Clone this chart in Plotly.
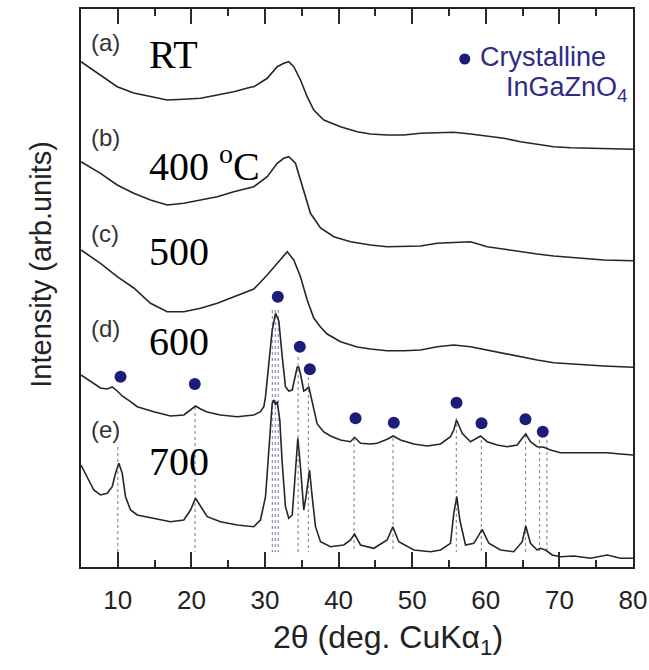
import plotly.graph_objects as go

# ---- XRD patterns (2-theta in degrees, intensity in arbitrary offset units) ----
tt_a = [5.0, 7.65, 9.92, 12.17, 14.44, 16.71, 18.97, 21.24, 23.51, 25.76, 28.02, 28.48,
        30.30, 31.66, 32.55, 33.23, 33.91, 34.82, 35.73, 36.63, 37.99, 40.26, 42.53,
        44.33, 46.60, 48.86, 51.13, 53.40, 55.65, 57.92, 60.19, 62.45, 64.72, 66.98,
        69.24, 71.51, 73.78, 76.03, 80.0]
int_a = [505.3, 492, 480.3, 474, 470.3, 467, 467.7, 468.7, 472, 475.3, 479.7, 480.3,
         488.7, 500.3, 503.7, 505.3, 500.3, 487, 470.3, 457, 447, 440.3, 435.3,
         433, 432, 432, 433.7, 434.3, 434.7, 433, 431, 428.7, 425.3, 423,
         420.3, 419.3, 418.7, 418, 417.7]

tt_b = [5.0, 7.65, 9.92, 12.17, 14.44, 16.71, 18.97, 21.24, 23.51, 25.76, 28.48, 30.30,
        31.66, 32.55, 33.23, 34.14, 35.05, 36.18, 37.54, 39.35, 41.62, 44.33, 46.60,
        48.86, 51.13, 53.40, 55.65, 57.92, 60.19, 62.45, 64.72, 66.98, 69.24, 71.51,
        73.78, 76.03, 80.0]
int_b = [405.3, 393.7, 382, 373.7, 367, 362, 363.7, 367, 370.3, 375.3, 380.3, 390.3,
         403.7, 408.7, 410.3, 403.7, 380.3, 353.7, 339, 330.3, 325.3, 322, 320.3,
         321, 321, 323.7, 324.3, 325.3, 320.3, 317.7, 315.3, 313, 311, 309.7,
         308.7, 307, 306.3]

tt_c = [5.0, 7.65, 9.92, 12.17, 14.44, 16.71, 18.97, 21.24, 23.51, 25.76, 26.66, 28.48,
        30.30, 31.66, 33.02, 33.91, 34.82, 35.73, 36.63, 37.54, 38.45, 40.26, 42.53,
        44.33, 46.60, 48.86, 51.13, 53.40, 55.65, 57.92, 60.19, 62.45, 64.72, 66.98,
        69.24, 71.51, 73.78, 76.03, 80.0]
int_c = [317, 303.7, 290.3, 279, 263.7, 255.3, 255.3, 258.7, 263.7, 270.3, 273, 278,
         292, 303.7, 315.3, 307, 290.3, 267, 249, 240, 233, 225.3, 220,
         218, 216.3, 216.3, 217, 220.3, 222, 220.3, 217, 213.7, 209.7, 207,
         204.3, 203, 202, 201, 199.7]

tt_d = [5.0, 5.84, 6.74, 7.65, 8.56, 9.24, 9.92, 10.60, 11.73, 12.64, 14.89, 17.16,
        18.97, 19.88, 20.56, 21.24, 22.15, 23.95, 26.22, 28.48, 29.38, 29.84, 30.07,
        30.52, 30.98, 31.43, 31.88, 32.34, 32.78, 33.23, 33.70, 34.05, 34.38, 34.59,
        34.82, 35.27, 35.50, 35.95, 36.41, 37.09, 37.99, 38.90, 40.26, 41.62, 42.16,
        42.98, 44.33, 45.24, 46.60, 47.42, 48.41, 50.22, 52.04, 53.85, 55.20, 55.65,
        56.02, 56.47, 56.79, 57.92, 58.83, 59.28, 60.19, 61.55, 62.91, 64.27, 64.95,
        65.43, 66.07, 66.98, 67.88, 68.79, 70.15, 71.96, 74.23, 76.49, 78.30, 80.0]
int_d = [192, 188, 183, 179, 178, 180, 176, 171, 165.3, 160.3, 155.3, 151,
         152, 157, 161, 158, 155, 152, 150.3, 152, 155.3, 160.3, 170.3,
         203.7, 237, 253.7, 246, 210.3, 180.3, 176, 177, 189, 200, 200,
         193, 176, 177, 180.3, 164, 143, 135, 131, 127, 125.3, 129.7,
         123.7, 123, 123.7, 127.7, 131, 127, 123, 121, 123, 130.3, 137,
         147, 139, 133.7, 125.3, 128.7, 131, 125.3, 122, 120.3, 122, 128.7,
         133, 125.3, 120.3, 119.7, 117, 114.3, 114.3, 113.7, 114.3, 113, 112]

tt_e = [5.0, 5.84, 6.74, 7.65, 8.56, 9.24, 9.69, 10.14, 10.60, 11.05, 11.73, 12.64,
        14.89, 17.16, 18.97, 19.88, 20.56, 21.24, 22.15, 23.95, 26.22, 28.48, 29.38,
        30.07, 30.52, 30.98, 31.20, 31.43, 31.66, 32.01, 32.34, 32.78, 33.23, 33.70,
        34.05, 34.46, 34.82, 35.27, 35.64, 36.05, 36.41, 36.86, 37.54, 38.90, 40.71,
        41.62, 42.16, 42.98, 44.78, 46.60, 47.36, 48.18, 50.22, 52.49, 53.85, 55.20,
        55.65, 56.06, 56.47, 57.24, 58.37, 59.51, 60.41, 62.00, 63.80, 64.95, 65.43,
        66.07, 66.98, 67.43, 68.11, 69.02, 70.15, 71.96, 74.23, 76.49, 78.30, 80.0]
int_e = [102, 90.3, 77, 72, 73.7, 80.3, 93.7, 103.7, 93.7, 70.3, 57, 52,
         48.7, 45.3, 47, 57, 68.7, 60.3, 50.3, 45.3, 42, 40.3, 47,
         70.3, 120.3, 163.7, 167, 162, 165.3, 147, 103.7, 60.3, 48.7, 52,
         87, 128.7, 100.3, 57, 73.7, 97, 70.3, 40.3, 25.3, 20.3, 22,
         27, 33, 22, 18.7, 27, 40.3, 25.3, 17, 15.3, 17, 23.7,
         53.7, 70.3, 47, 22, 23.7, 37.7, 23.7, 17, 15.3, 25.3, 41,
         23.7, 17, 18.7, 17, 12, 10.3, 11, 8.7, 12, 8.7, 8.7]

# ---- crystalline InGaZnO4 reflections ----
dot_pos = [10.37, 20.46, 31.74, 34.73, 36.09, 42.30, 47.50, 56.02, 59.42, 65.39, 67.74]
dot_height = [190.3, 183, 270.3, 220.3, 197.7, 148.7, 144.3, 164.3, 143.7, 147.7, 135.3]

ref_pos = [10.0, 20.5, 31.0, 31.4, 31.8, 34.5, 35.9, 42.1, 47.4, 56.0, 59.4, 65.4, 67.3, 68.3]
ref_top = [120, 160, 257, 257, 257, 210, 190, 129, 129, 149, 127, 132, 127, 127]
ref_bottom = 15

panel_tags = ["(a)", "(b)", "(c)", "(d)", "(e)"]
panel_tag_y = [525, 430, 334, 239, 138]
temp_labels = ["RT", "400 <sup>o</sup>C", "500", "600", "700"]
temp_label_y = [513, 404, 316, 226, 106]

x_ticks = [10, 20, 30, 40, 50, 60, 70, 80]

AX = "#222222"
SANS = "Liberation Sans, Arial"

fig = go.Figure()

# dotted reference lines from the 600 pattern down to the baseline
lx, ly = [], []
for p, top in zip(ref_pos, ref_top):
    lx += [p, p, None]
    ly += [top, ref_bottom, None]
fig.add_trace(go.Scatter(x=lx, y=ly, mode="lines",
                         line=dict(color="#8a8eb5", width=1.2, dash="dot"),
                         hoverinfo="skip", showlegend=False))

for xs, ys in [(tt_a, int_a), (tt_b, int_b), (tt_c, int_c), (tt_d, int_d), (tt_e, int_e)]:
    fig.add_trace(go.Scatter(x=xs, y=ys, mode="lines",
                             line=dict(color="#262626", width=1.6),
                             showlegend=False))

fig.add_trace(go.Scatter(x=dot_pos, y=dot_height, mode="markers",
                         marker=dict(color="#1c1c7a", size=12),
                         showlegend=False))

# legend marker
fig.add_trace(go.Scatter(x=[57.14], y=[508], mode="markers",
                         marker=dict(color="#1c1c7a", size=11),
                         showlegend=False))

# invisible trace carrying the top tick axis
fig.add_trace(go.Scatter(x=[5, 80], y=[0, 0], xaxis="x2", mode="markers",
                         marker=dict(opacity=0), hoverinfo="skip", showlegend=False))

annotations = []
for tag, y in zip(panel_tags, panel_tag_y):
    annotations.append(dict(x=6.1, y=y, xref="x", yref="y", text=tag, showarrow=False,
                            xanchor="left", yanchor="middle",
                            font=dict(family=SANS, size=24, color="#333333")))
for lab, y in zip(temp_labels, temp_label_y):
    annotations.append(dict(x=13.9, y=y, xref="x", yref="y", text=lab, showarrow=False,
                            xanchor="left", yanchor="middle",
                            font=dict(family="Liberation Serif, Times New Roman", size=40,
                                      color="#000000")))
annotations.append(dict(x=58.9, y=510, xref="x", yref="y", text="Crystalline",
                        showarrow=False, xanchor="left", yanchor="middle",
                        font=dict(family=SANS, size=27, color="#2d2d85")))
annotations.append(dict(x=79.6, y=478, xref="x", yref="y", text="InGaZnO<sub>4</sub>",
                        showarrow=False, xanchor="right", yanchor="middle",
                        font=dict(family=SANS, size=27, color="#2d2d85")))
annotations.append(dict(x=0.556, y=-0.13, xref="paper", yref="paper",
                        text="2θ (deg. CuKα<sub>1</sub>)", showarrow=False,
                        xanchor="center", yanchor="middle",
                        font=dict(family=SANS, size=32, color=AX)))
annotations.append(dict(x=-0.073, y=0.543, xref="paper", yref="paper",
                        text="Intensity (arb.units)", showarrow=False, textangle=-90,
                        xanchor="center", yanchor="middle",
                        font=dict(family=SANS, size=29, color=AX)))

tick_style = dict(ticks="inside", ticklen=15, tickwidth=2, tickcolor="#2a2a2a",
                  minor=dict(dtick=5, tick0=0, ticks="inside", ticklen=7, tickwidth=2,
                             tickcolor="#2a2a2a"))

fig.update_layout(
    width=649, height=670,
    margin=dict(l=81, r=16, t=9, b=103),
    paper_bgcolor="white", plot_bgcolor="white",
    annotations=annotations,
    xaxis=dict(range=[5, 80], tickvals=x_ticks, ticktext=[str(v) for v in x_ticks],
               showline=True, linewidth=2, linecolor=AX, mirror=True, automargin=False,
               showgrid=False, zeroline=False, ticklabelstandoff=9,
               tickfont=dict(family=SANS, size=26, color=AX), **tick_style),
    xaxis2=dict(range=[5, 80], tickvals=x_ticks, overlaying="x", side="top",
                showticklabels=False, showgrid=False, zeroline=False, automargin=False,
                showline=False, **tick_style),
    yaxis=dict(range=[0, 558], showticklabels=False, ticks="", automargin=False,
               showline=True, linewidth=2, linecolor=AX, mirror=True,
               showgrid=False, zeroline=False),
)

fig.write_html("out.html")
